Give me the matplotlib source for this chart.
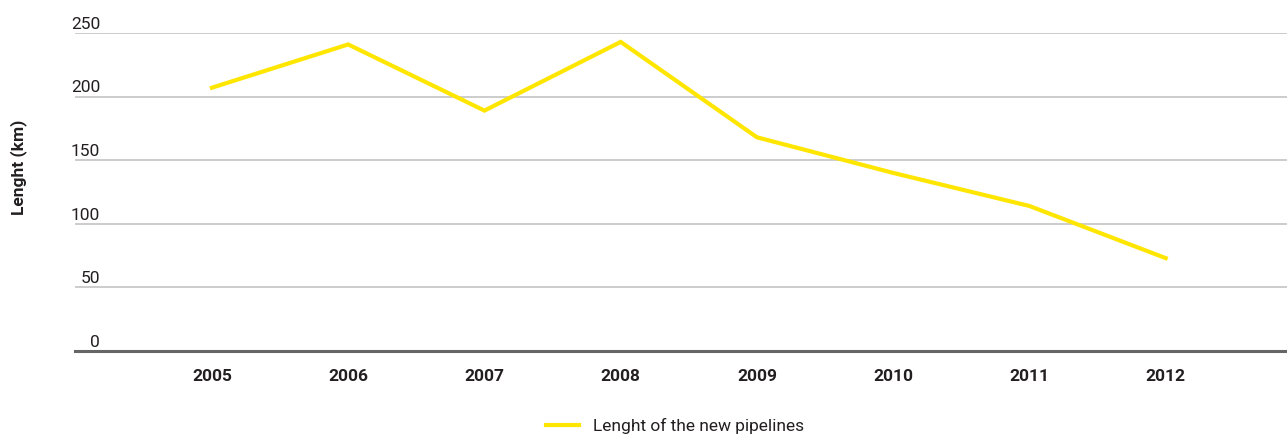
import matplotlib
matplotlib.use('Agg')
import matplotlib.pyplot as plt
import matplotlib.transforms as mtransforms

years = ['2005', '2006', '2007', '2008', '2009', '2010', '2011', '2012']
length_km = [207, 241, 189, 243, 168, 140, 114, 73]
y_ticks = [0, 50, 100, 150, 200, 250]
series_name = 'Lenght of the new pipelines'
y_title = 'Lenght (km)'

plt.rcParams['font.family'] = ['Roboto', 'DejaVu Sans']

fig = plt.figure(figsize=(12.87, 4.37), dpi=100)
ax = fig.add_axes([75 / 1287, 1 - 351 / 437, 1212 / 1287, 318 / 437])

x = list(range(len(years)))
ax.plot(x, length_km, color='#ffe600', linewidth=3, solid_joinstyle='miter',
        label=series_name, clip_on=False)

ax.set_xlim(-1.005, 7.89)
ax.set_ylim(0, 250)

for t in y_ticks[1:]:
    ax.axhline(t, color='#c4c4c4', linewidth=1.2, zorder=0)
ax.axhline(0, color='#666666', linewidth=2.2, zorder=1, clip_on=False)

for s in ax.spines.values():
    s.set_visible(False)

ax.set_xticks(x)
ax.set_xticklabels(years, fontsize=12.5, fontweight='bold', color='#231f20')
ax.tick_params(axis='x', length=0, pad=13)
ax.set_yticks([])

# y labels sit right-aligned just above each gridline
trans = mtransforms.blended_transform_factory(ax.transAxes, ax.transData)
shift = mtransforms.ScaledTranslation(0, 3 / 72, fig.dpi_scale_trans)
for t in y_ticks:
    ax.text(25 / 1212, t, str(t), transform=trans + shift, ha='right', va='baseline',
            fontsize=12.5, color='#231f20')

fig.text(19 / 1287, 1 - 167 / 437, y_title, rotation=90, ha='center', va='center',
         fontsize=12.5, fontweight='bold', color='#231f20')

fig.legend(loc='center', bbox_to_anchor=(675 / 1287, 1 - 426 / 437), frameon=False,
           fontsize=12.5, handlelength=1.9, handletextpad=0.8, borderpad=0,
           labelcolor='#231f20')

plt.savefig('out.png', dpi=100)
